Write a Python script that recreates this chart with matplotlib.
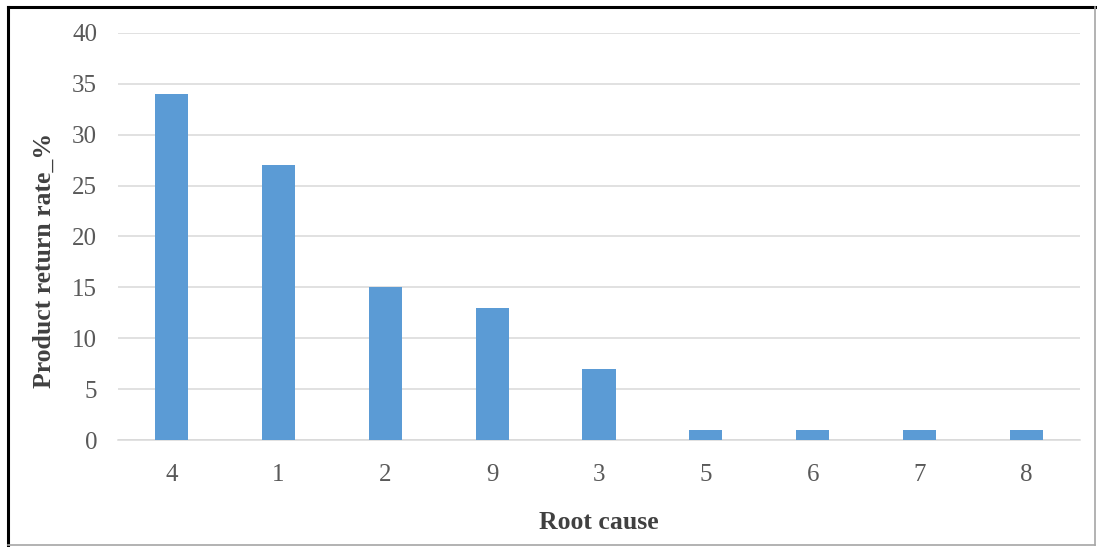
import matplotlib
matplotlib.use("Agg")
import matplotlib.pyplot as plt
from matplotlib.lines import Line2D

# Root causes, sorted by return rate
CAUSES = ["4", "1", "2", "9", "3", "5", "6", "7", "8"]
RATES = [34, 27, 15, 13, 7, 1, 1, 1, 1]
Y_TICKS = [0, 5, 10, 15, 20, 25, 30, 35, 40]

plt.rcParams["font.family"] = ["Liberation Serif", "DejaVu Serif"]

fig = plt.figure(figsize=(10.97, 5.47), dpi=100)
fig.patch.set_facecolor("white")
ax = fig.add_axes([0.1076, 0.1956, 0.8769, 0.7441])

x = range(len(CAUSES))
ax.bar(x, RATES, width=0.31, color="#5b9bd5", zorder=3)

ax.set_xlim(-0.5, len(CAUSES) - 0.5)
ax.set_ylim(0, 40)
ax.set_yticks(Y_TICKS)
ax.set_xticks(list(x))
ax.set_xticklabels(CAUSES)
ax.tick_params(axis="both", length=0, labelsize=18, colors="#595959")
ax.tick_params(axis="y", pad=15)
ax.tick_params(axis="x", pad=17)

ax.grid(axis="y", color="#d9d9d9", linewidth=1.1, zorder=0)
for side in ["top", "right", "left"]:
    ax.spines[side].set_visible(False)
ax.spines["bottom"].set_color("#d9d9d9")
ax.spines["bottom"].set_linewidth(1.1)

ax.set_xlabel("Root cause", fontsize=18.5, fontweight="bold", color="#404040")
ax.set_ylabel("Product return rate_%", fontsize=18.5, fontweight="bold", color="#404040")
ax.xaxis.set_label_coords(0.5, -0.175)
ax.yaxis.set_label_coords(-0.0645, 0.44)

# outer frame
fig.add_artist(Line2D([0.0075, 0.0075], [0.004, 0.987], color="black", linewidth=2.2, transform=fig.transFigure))
fig.add_artist(Line2D([0.0075, 0.998], [0.987, 0.987], color="black", linewidth=2.2, transform=fig.transFigure))
fig.add_artist(Line2D([0.0075, 0.998], [0.004, 0.004], color="#a6a6a6", linewidth=1.2, transform=fig.transFigure))
fig.add_artist(Line2D([0.998, 0.998], [0.004, 0.987], color="#a6a6a6", linewidth=1.2, transform=fig.transFigure))

fig.savefig("out.png", dpi=100, facecolor=fig.get_facecolor())
